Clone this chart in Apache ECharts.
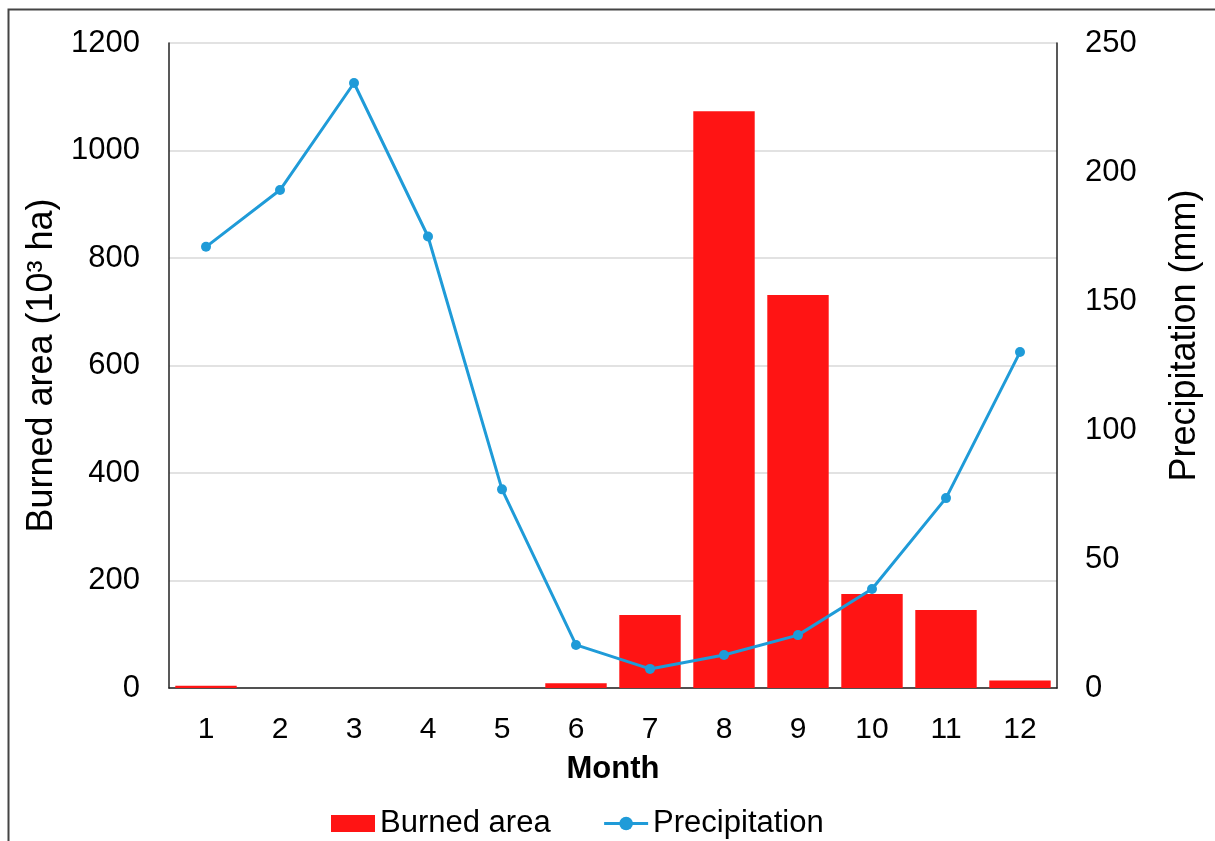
<!DOCTYPE html>
<html>
<head>
<meta charset="utf-8">
<script src="https://cdn.jsdelivr.net/npm/echarts@6/dist/echarts.min.js"></script>
<style>
  html, body { margin: 0; padding: 0; background: #fff; }
  #chart { width: 1215px; height: 841px; }
</style>
</head>
<body>
<div id="chart"></div>
<script>
// months and values
const months = ['1', '2', '3', '4', '5', '6', '7', '8', '9', '10', '11', '12'];
const burnedArea = [4, 0, 0, 0, 0, 9, 136, 1073, 731, 175, 145, 14];
const precipitation = [171, 193, 234.5, 175, 77, 16.7, 7.4, 12.8, 20.5, 38.4, 73.6, 130.2];

const font = 'Liberation Sans, Arial, Helvetica, sans-serif';

const myChart = echarts.init(document.getElementById('chart'));
myChart.setOption({
  animation: false,
  textStyle: { fontFamily: font },
  graphic: [
    {
      type: 'rect',
      shape: { x: 8.5, y: 9.5, width: 1300, height: 900 },
      style: { fill: 'none', stroke: '#444', lineWidth: 2 },
      z: 100
    }
  ],
  grid: { left: 169, right: 158, top: 43, bottom: 153 },
  legend: {
    top: 803,
    left: 326,
    itemGap: 52,
    itemWidth: 44,
    itemHeight: 17,
    itemTextGap: 3,
    lineStyle: { width: 3 },
    textStyle: { fontSize: 31, color: '#000', fontFamily: font },
    data: [
      { name: 'Burned area', icon: 'rect' },
      { name: 'Precipitation' }
    ]
  },
  xAxis: {
    type: 'category',
    data: months,
    name: 'Month',
    nameLocation: 'middle',
    nameGap: 66,
    nameTextStyle: { fontSize: 31, fontWeight: 'bold', color: '#000' },
    axisLine: { lineStyle: { color: '#222', width: 1.5 } },
    axisTick: { alignWithLabel: true, length: 9, lineStyle: { color: '#222', width: 1.5 } },
    axisLabel: { fontSize: 30, color: '#000', margin: 27 }
  },
  yAxis: [
    {
      type: 'value',
      min: 0,
      max: 1200,
      interval: 200,
      name: 'Burned area (10³ ha)',
      nameLocation: 'middle',
      nameRotate: 90,
      nameGap: 109,
      nameTextStyle: { fontSize: 36, color: '#000' },
      axisLine: { show: true, lineStyle: { color: '#222', width: 1.5 } },
      axisTick: { show: false },
      axisLabel: { fontSize: 31, color: '#000', margin: 29, formatter: v => String(v) },
      splitLine: { lineStyle: { color: '#d9d9d9', width: 1.5 } }
    },
    {
      type: 'value',
      min: 0,
      max: 250,
      interval: 50,
      name: 'Precipitation (mm)',
      nameLocation: 'middle',
      nameRotate: 90,
      nameGap: 110,
      nameTextStyle: { fontSize: 36, color: '#000', padding: [0, 0, 0, 60] },
      axisLine: { show: true, lineStyle: { color: '#222', width: 1.5 } },
      axisTick: { show: false },
      axisLabel: { fontSize: 31, color: '#000', margin: 28, formatter: v => String(v) },
      splitLine: { show: false }
    }
  ],
  series: [
    {
      name: 'Burned area',
      type: 'bar',
      yAxisIndex: 0,
      data: burnedArea,
      barCategoryGap: '17%',
      itemStyle: { color: '#ff1414' }
    },
    {
      name: 'Precipitation',
      type: 'line',
      yAxisIndex: 1,
      data: precipitation,
      symbol: 'circle',
      symbolSize: 10,
      lineStyle: { color: '#1f9bd8', width: 3 },
      itemStyle: { color: '#1f9bd8' },
      z: 5
    }
  ]
});
</script>
</body>
</html>
